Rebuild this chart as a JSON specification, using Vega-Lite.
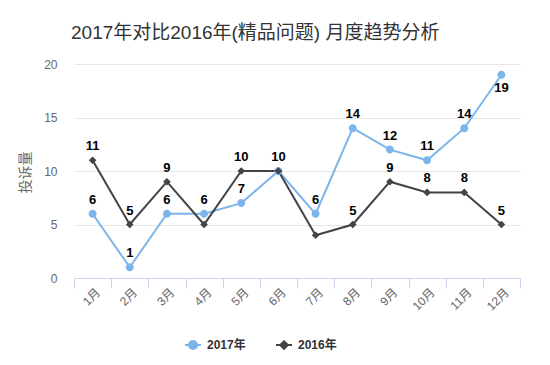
{
  "$schema": "https://vega.github.io/schema/vega-lite/v6.json",
  "autosize": {"type": "none"},
  "width": 446,
  "height": 214,
  "padding": {"left": 74, "top": 64, "right": 30, "bottom": 87},
  "background": "white",
  "title": {
    "text": "2017年对比2016年(精品问题) 月度趋势分析",
    "anchor": "start",
    "frame": "group",
    "dx": -3,
    "offset": 15,
    "fontSize": 19,
    "fontWeight": "normal",
    "color": "#333333",
    "font": "Liberation Sans, Noto Sans CJK SC"
  },
  "config": {
    "view": {"stroke": null},
    "font": "Liberation Sans, Noto Sans CJK SC"
  },
  "data": {
    "values": [
      {"month": "1月", "series": "2017年", "value": 6, "show": true},
      {"month": "2月", "series": "2017年", "value": 1, "show": true},
      {"month": "3月", "series": "2017年", "value": 6, "show": true},
      {"month": "4月", "series": "2017年", "value": 6, "show": true},
      {"month": "5月", "series": "2017年", "value": 7, "show": true},
      {"month": "6月", "series": "2017年", "value": 10, "show": false},
      {"month": "7月", "series": "2017年", "value": 6, "show": true},
      {"month": "8月", "series": "2017年", "value": 14, "show": true},
      {"month": "9月", "series": "2017年", "value": 12, "show": true},
      {"month": "10月", "series": "2017年", "value": 11, "show": true},
      {"month": "11月", "series": "2017年", "value": 14, "show": true},
      {"month": "12月", "series": "2017年", "value": 19, "show": true},
      {"month": "1月", "series": "2016年", "value": 11, "show": true},
      {"month": "2月", "series": "2016年", "value": 5, "show": true},
      {"month": "3月", "series": "2016年", "value": 9, "show": true},
      {"month": "4月", "series": "2016年", "value": 5, "show": false},
      {"month": "5月", "series": "2016年", "value": 10, "show": true},
      {"month": "6月", "series": "2016年", "value": 10, "show": true},
      {"month": "7月", "series": "2016年", "value": 4, "show": false},
      {"month": "8月", "series": "2016年", "value": 5, "show": true},
      {"month": "9月", "series": "2016年", "value": 9, "show": true},
      {"month": "10月", "series": "2016年", "value": 8, "show": true},
      {"month": "11月", "series": "2016年", "value": 8, "show": true},
      {"month": "12月", "series": "2016年", "value": 5, "show": true}
    ]
  },
  "encoding": {
    "x": {
      "field": "month",
      "type": "ordinal",
      "sort": ["1月","2月","3月","4月","5月","6月","7月","8月","9月","10月","11月","12月"],
      "scale": {"paddingInner": 0, "paddingOuter": 0},
      "axis": {
        "title": null,
        "labelAngle": -45,
        "labelAlign": "right",
        "labelBaseline": "middle",
        "labelPadding": 2,
        "labelOffset": 5,
        "labelFontSize": 12,
        "labelColor": "#666666",
        "tickBand": "extent",
        "tickSize": 10,
        "tickColor": "#ccd6eb",
        "domainColor": "#ccd6eb",
        "grid": false
      }
    },
    "y": {
      "field": "value",
      "type": "quantitative",
      "scale": {"domain": [0, 20], "nice": false},
      "axis": {
        "values": [0, 5, 10, 15, 20],
        "title": "投诉量",
        "titleFontSize": 14,
        "titleFontWeight": "normal",
        "titleColor": "#666666",
        "titleX": -49,
        "titleY": 108,
        "titleAlign": "center",
        "titleBaseline": "middle",
        "ticks": false,
        "domain": false,
        "labelPadding": 17,
        "labelFontSize": 12,
        "labelColor": "#666666",
        "gridColor": "#e6e6e6",
        "gridWidth": 1
      }
    }
  },
  "layer": [
    {
      "mark": {"type": "line", "strokeWidth": 2},
      "encoding": {
        "color": {
          "field": "series",
          "type": "nominal",
          "scale": {"domain": ["2017年", "2016年"], "range": ["#7cb5ec", "#434348"]},
          "legend": {
            "title": null,
            "orient": "none",
            "legendX": 113,
            "legendY": 275,
            "direction": "horizontal",
            "labelFontSize": 12,
            "labelFontWeight": "bold",
            "labelColor": "#333333",
            "labelOffset": 8,
            "columnPadding": 26,
            "symbolSize": 64,
            "symbolStrokeWidth": 2
          }
        }
      }
    },
    {
      "mark": {"type": "point", "filled": true, "opacity": 1, "size": 64, "strokeWidth": 0},
      "encoding": {
        "color": {"field": "series", "type": "nominal"},
        "shape": {
          "field": "series",
          "type": "nominal",
          "scale": {
            "domain": ["2017年", "2016年"],
            "range": [
              "M-2,0H2M-1,0A1,1 0 1,1 1,0A1,1 0 1,1 -1,0Z",
              "M-2,0H2M0,-0.95L0.95,0L0,0.95L-0.95,0Z"
            ]
          },
          "legend": null
        }
      }
    },
    {
      "transform": [{"filter": "datum.show && datum.value < 19"}],
      "mark": {"type": "text", "dy": -7, "baseline": "bottom", "fontSize": 13, "fontWeight": "bold", "color": "#000000"},
      "encoding": {"text": {"field": "value", "type": "quantitative"}}
    },
    {
      "transform": [{"filter": "datum.show && datum.value >= 19"}],
      "mark": {"type": "text", "dy": 7, "baseline": "top", "fontSize": 13, "fontWeight": "bold", "color": "#000000"},
      "encoding": {"text": {"field": "value", "type": "quantitative"}}
    }
  ]
}
